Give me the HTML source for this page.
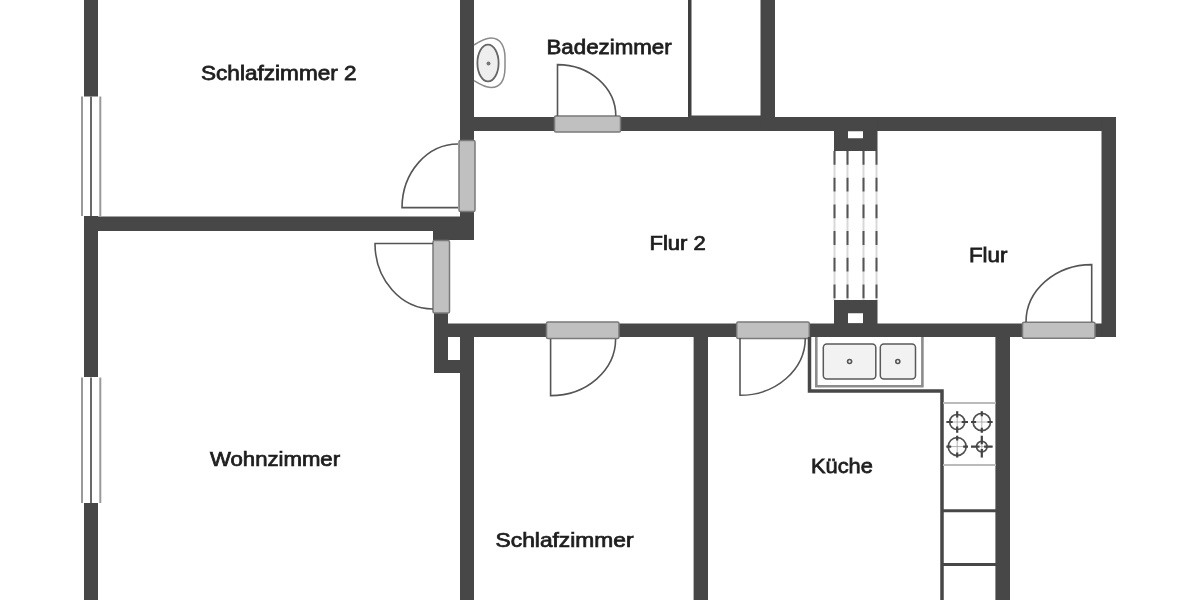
<!DOCTYPE html>
<html><head><meta charset="utf-8">
<style>
html,body{margin:0;padding:0;background:#fff;width:1200px;height:600px;overflow:hidden}
svg{display:block;will-change:transform}
text{font-family:"Liberation Sans",sans-serif;font-size:20px;fill:#1e1e1e;stroke:#1e1e1e;stroke-width:0.75px}
</style></head><body>
<svg width="1200" height="600" viewBox="0 0 1200 600">
<g fill="#474747">
<!-- left outer wall -->
<rect x="84" y="0" width="14" height="96.5"/>
<rect x="84" y="216" width="14" height="161"/>
<rect x="84" y="503" width="14" height="97"/>
<!-- horizontal wall Schlaf2/Wohn -->
<rect x="84" y="216.5" width="390" height="14.5"/>
<rect x="433" y="230" width="41" height="10"/>
<!-- vertical wall bath/schlaf2 -->
<rect x="460" y="0" width="14" height="240"/>
<!-- wall below wohn door -->
<rect x="434" y="313" width="14" height="60"/>
<rect x="434" y="360" width="26" height="13"/>
<rect x="460" y="330" width="14" height="270"/>
<!-- bottom corridor wall -->
<rect x="448" y="323.5" width="668" height="13.5"/>
<!-- walls down -->
<rect x="693.6" y="330" width="14.4" height="270"/>
<rect x="995.4" y="330" width="14.6" height="270"/>
<!-- top corridor wall -->
<rect x="474" y="117" width="642" height="14"/>
<rect x="688" y="0" width="3.5" height="118" fill="#3f3f3f"/>
<rect x="688" y="115.5" width="73" height="3"/>
<rect x="760.5" y="0" width="14.5" height="130.5"/>
<!-- right wall -->
<rect x="1101.5" y="117" width="14.5" height="220"/>
<!-- railing blocks -->
<path d="M834 117H877.5V151H834Z M848 131.3V138.2H863V131.3Z" fill-rule="evenodd"/>
<path d="M834 300H877.5V324H834Z M848 313.3V323.3H863V313.3Z" fill-rule="evenodd"/>
</g>
<!-- windows -->
<g>
<rect x="81" y="96.5" width="2" height="119.5" fill="#9a9a9a"/>
<rect x="90" y="96.5" width="2" height="119.5" fill="#6a6a6a"/>
<rect x="99.3" y="96.5" width="2" height="119.5" fill="#9a9a9a"/>
<rect x="81" y="377.5" width="2" height="125.5" fill="#9a9a9a"/>
<rect x="90" y="377.5" width="2" height="125.5" fill="#6a6a6a"/>
<rect x="99.3" y="377.5" width="2" height="125.5" fill="#9a9a9a"/>
</g>
<!-- railing dashes -->
<g stroke-width="2">
<g stroke="#d8d8d8">
<line x1="834.5" y1="151" x2="834.5" y2="300"/>
<line x1="847.5" y1="151" x2="847.5" y2="300"/>
<line x1="863.5" y1="151" x2="863.5" y2="300"/>
<line x1="876.5" y1="151" x2="876.5" y2="300"/>
</g>
<g stroke="#555" stroke-dasharray="13.8 12.9">
<line x1="834.5" y1="151" x2="834.5" y2="300"/>
<line x1="847.5" y1="151" x2="847.5" y2="300"/>
<line x1="863.5" y1="151" x2="863.5" y2="300"/>
<line x1="876.5" y1="151" x2="876.5" y2="300"/>
</g>
</g>
<!-- door leaves -->
<g fill="#c0c0c0" stroke="#7a7a7a" stroke-width="1.5">
<rect x="459" y="140.5" width="16" height="71" rx="1.5"/>
<rect x="433" y="240.5" width="16.5" height="72.5" rx="1.5"/>
<rect x="554.5" y="116" width="66" height="16" rx="1.5"/>
<rect x="546.5" y="322" width="72.5" height="16.5" rx="1.5"/>
<rect x="736.7" y="322" width="72.6" height="16.5" rx="1.5"/>
<rect x="1022.5" y="322.3" width="72.5" height="16" rx="1.5"/>
</g>
<!-- door swings -->
<g fill="none" stroke="#555" stroke-width="1.6">
<path d="M458 144 A56 64 0 0 0 402 207.6 H458"/>
<path d="M433 309 A58 65.5 0 0 1 375 243.5 H433"/>
<path d="M557.5 116 V64.6 A58.3 51.4 0 0 1 615.8 116"/>
<path d="M550.6 339 V395.6 A65 56.6 0 0 0 615.6 339"/>
<path d="M740 338 V395.3 A65.3 57.3 0 0 0 805.3 338"/>
<path d="M1091.7 322 V264.6 A65.7 57.4 0 0 0 1026 322"/>
</g>
<!-- bathroom sink -->
<g>
<path d="M474 45 C481 40.5 486 38 491 38 C501 38 505 47 505 58 V67 C505 79 501 87.5 491 87.5 C486 87.5 481 85 474 80.6" fill="none" stroke="#8a8a8a" stroke-width="1.5"/>
<ellipse cx="488" cy="63" rx="10.6" ry="18.4" fill="#eeeeee" stroke="#666" stroke-width="1.8"/>
<circle cx="488.5" cy="63.5" r="2" fill="#777"/>
</g>
<!-- kitchen -->
<g>
<path d="M809.5 337 V391 H942 V600" fill="none" stroke="#474747" stroke-width="3.5"/>
<path d="M816.3 337V386.3H922.4V337" fill="none" stroke="#8c8c8c" stroke-width="2.6"/>
<rect x="823.3" y="344" width="52.5" height="35" rx="3.5" fill="#f2f2f2" stroke="#5a5a5a" stroke-width="1.5"/>
<rect x="880.3" y="344" width="35.2" height="35" rx="3.5" fill="#f2f2f2" stroke="#5a5a5a" stroke-width="1.5"/>
<circle cx="849.6" cy="361.5" r="2" fill="none" stroke="#555" stroke-width="1.6"/>
<circle cx="897.8" cy="361.5" r="2" fill="none" stroke="#555" stroke-width="1.6"/>
<line x1="943" y1="403" x2="996" y2="403" stroke="#bbb" stroke-width="2"/>
<line x1="943" y1="465" x2="996" y2="465" stroke="#bbb" stroke-width="2"/>
<line x1="943" y1="510.7" x2="996" y2="510.7" stroke="#474747" stroke-width="3"/>
<line x1="943" y1="564.5" x2="996" y2="564.5" stroke="#474747" stroke-width="3"/>
<g stroke="#a0a0a0" stroke-width="0.8">
<path d="M946.4 422H968.0M957.2 411.2V432.8"/>
<path d="M971.0 422H992.6M981.8 411.2V432.8"/>
<path d="M946.4 446.6H968.0M957.2 435.8V457.4"/>
<path d="M971.0 446.6H992.6M981.8 435.8V457.4"/>
</g>
<g fill="none" stroke="#505050" stroke-width="1.7">
<circle cx="957.2" cy="422" r="7.5"/>
<circle cx="981.8" cy="422" r="8.7"/>
<circle cx="957.2" cy="446.6" r="9"/>
<circle cx="981.8" cy="446.6" r="5.3"/>
</g>
<g stroke="#444" stroke-width="2.2">
<path d="M946.4 422H952.7M961.7 422H968.0M957.2 411.2V417.5M957.2 426.5V432.8"/>
<path d="M971.0 422H976.1M987.5 422H992.6M981.8 411.2V416.3M981.8 427.7V432.8"/>
<path d="M946.4 446.6H951.2M963.2 446.6H968.0M957.2 435.8V440.6M957.2 452.6V457.4"/>
<path d="M971.0 446.6H979.5M984.1 446.6H992.6M981.8 435.8V444.3M981.8 448.9V457.4"/>
</g>
</g>
</g>
<!-- labels -->
<text transform="translate(201 79.75) scale(1.13 1)">Schlafzimmer 2</text>
<text transform="translate(546.5 54.3) scale(1.115 1)">Badezimmer</text>
<text transform="translate(649.5 249.8) scale(1.1 1)">Flur 2</text>
<text transform="translate(969 261.7) scale(1.115 1)">Flur</text>
<text transform="translate(210 466) scale(1.108 1)">Wohnzimmer</text>
<text transform="translate(495.6 547.3) scale(1.139 1)">Schlafzimmer</text>
<text transform="translate(811 472.75) scale(1.09 1)">Küche</text>
</svg>
</body></html>
